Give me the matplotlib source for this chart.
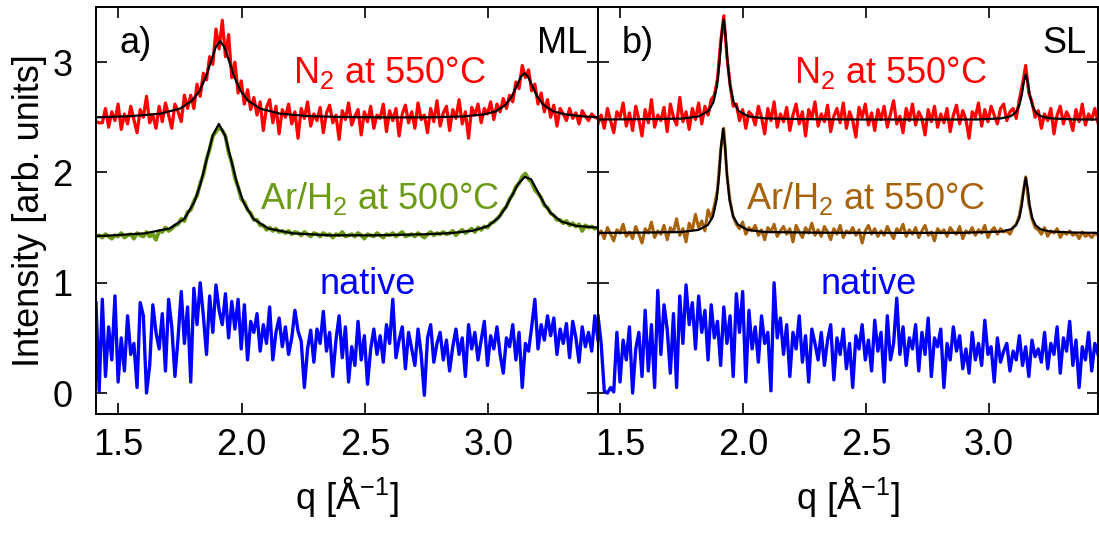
import matplotlib
matplotlib.use('Agg')
import matplotlib.pyplot as plt
import numpy as np

plt.rcParams['font.family'] = ['Liberation Sans', 'DejaVu Sans']
plt.rcParams['mathtext.fontset'] = 'custom'
plt.rcParams['mathtext.rm'] = 'Liberation Sans'
plt.rcParams['mathtext.it'] = 'Liberation Sans:italic'
plt.rcParams['font.size'] = 26

# q grid shared by all scans
q = np.linspace(1.41, 3.445, 160)

# ---- a) ML ----
n2_ml = [
    2.46, 2.45, 2.45, 2.58, 2.41, 2.55, 2.47, 2.62, 2.39, 2.53,
    2.44, 2.60, 2.48, 2.36, 2.57, 2.50, 2.69, 2.45, 2.52, 2.40,
    2.60, 2.46, 2.63, 2.52, 2.40, 2.62, 2.55, 2.46, 2.70, 2.58,
    2.70, 2.58, 2.80, 2.69, 2.90, 2.84, 3.05, 2.98, 3.30, 3.12,
    3.38, 3.05, 3.25, 2.86, 3.00, 2.72, 2.83, 2.62, 2.75, 2.57,
    2.68, 2.52, 2.64, 2.38, 2.59, 2.66, 2.45, 2.60, 2.35, 2.57,
    2.50, 2.62, 2.44, 2.55, 2.31, 2.58, 2.49, 2.64, 2.42, 2.53,
    2.47, 2.59, 2.36, 2.54, 2.61, 2.45, 2.52, 2.30, 2.56, 2.48,
    2.63, 2.43, 2.51, 2.57, 2.34, 2.55, 2.46, 2.60, 2.40, 2.52,
    2.49, 2.62, 2.37, 2.56, 2.47, 2.58, 2.33, 2.53, 2.61, 2.45,
    2.55, 2.40, 2.63, 2.48, 2.52, 2.36, 2.58, 2.46, 2.65, 2.42,
    2.54, 2.60, 2.38, 2.57, 2.49, 2.66, 2.44, 2.55, 2.31, 2.59,
    2.52, 2.62, 2.45, 2.58, 2.53, 2.64, 2.48, 2.62, 2.55, 2.67,
    2.58, 2.70, 2.64, 2.82, 2.76, 2.97, 2.86, 2.93, 2.74, 2.80,
    2.62, 2.72, 2.55, 2.66, 2.50, 2.61, 2.42, 2.58, 2.53, 2.47,
    2.58, 2.49, 2.54, 2.44, 2.56, 2.51, 2.47, 2.53, 2.50, 2.49,
]
arh2_ml = [
    1.42, 1.43, 1.41, 1.44, 1.42, 1.40, 1.43, 1.42, 1.45, 1.41,
    1.43, 1.44, 1.40, 1.45, 1.43, 1.42, 1.46, 1.42, 1.44, 1.39,
    1.47, 1.46, 1.50, 1.47, 1.49, 1.52, 1.53, 1.58, 1.56, 1.64,
    1.66, 1.74, 1.79, 1.90, 1.98, 2.12, 2.21, 2.33, 2.37, 2.41,
    2.38, 2.33, 2.18, 2.09, 1.95, 1.87, 1.76, 1.73, 1.66, 1.63,
    1.57, 1.57, 1.52, 1.52, 1.48, 1.50, 1.47, 1.49, 1.46, 1.47,
    1.45, 1.47, 1.44, 1.46, 1.45, 1.43, 1.46, 1.44, 1.42, 1.45,
    1.44, 1.42, 1.45, 1.43, 1.44, 1.41, 1.44, 1.43, 1.46, 1.42,
    1.43, 1.44, 1.42, 1.45, 1.43, 1.40, 1.44, 1.43, 1.42, 1.45,
    1.43, 1.41, 1.44, 1.43, 1.45, 1.42, 1.44, 1.46, 1.42, 1.43,
    1.44, 1.42, 1.45, 1.43, 1.41, 1.44, 1.46, 1.43, 1.45, 1.44,
    1.46, 1.44, 1.45, 1.47, 1.43, 1.46, 1.48, 1.45, 1.47, 1.49,
    1.46, 1.50, 1.48, 1.51, 1.50, 1.54, 1.55, 1.58, 1.61, 1.66,
    1.69, 1.76, 1.80, 1.87, 1.90, 1.96, 1.99, 1.94, 1.91, 1.84,
    1.81, 1.77, 1.70, 1.68, 1.63, 1.61, 1.57, 1.57, 1.54, 1.56,
    1.52, 1.54, 1.51, 1.53, 1.47, 1.52, 1.50, 1.51, 1.49, 1.50,
]
native_ml = [
    0.82, 0.02, 0.85, 0.15, 0.60, 0.30, 0.88, 0.10, 0.50, 0.20,
    0.70, 0.35, 0.45, 0.05, 0.82, 0.70, 0.00, 0.25, 0.80, 0.55,
    0.40, 0.72, 0.20, 0.85, 0.60, 0.15, 0.50, 0.92, 0.45, 0.78,
    0.10, 0.95, 0.62, 1.00, 0.70, 0.35, 0.88, 0.55, 0.98, 0.75,
    0.62, 0.90, 0.50, 0.83, 0.58, 0.85, 0.40, 0.80, 0.30, 0.65,
    0.55, 0.72, 0.38, 0.62, 0.45, 0.78, 0.30, 0.55, 0.68, 0.42,
    0.60, 0.35, 0.50, 0.75, 0.56, 0.47, 0.05, 0.40, 0.57, 0.28,
    0.58, 0.45, 0.74, 0.38, 0.55, 0.15, 0.48, 0.70, 0.32, 0.60,
    0.10, 0.42, 0.25, 0.65, 0.30, 0.52, 0.08, 0.40, 0.58, 0.35,
    0.52, 0.28, 0.62, 0.45, 0.85, 0.32, 0.48, 0.60, 0.22, 0.55,
    0.40, 0.25, 0.58, 0.35, -0.02, 0.50, 0.62, 0.28, 0.45, 0.55,
    0.30, 0.48, 0.20, 0.42, 0.58, 0.35, 0.50, 0.15, 0.62, 0.40,
    0.55, 0.30, 0.48, 0.65, 0.25, 0.52, 0.40, 0.60, 0.35, 0.18,
    0.50, 0.42, 0.62, 0.30, 0.55, 0.05, 0.45, 0.38, 0.60, 0.85,
    0.40, 0.62, 0.48, 0.70, 0.52, 0.68, 0.35, 0.58, 0.45, 0.63,
    0.32, 0.65, 0.50, 0.28, 0.60, 0.42, 0.55, 0.38, 0.70, 0.48,
]

# ---- b) SL ----
n2_sl = [
    2.44, 2.52, 2.40, 2.58, 2.47, 2.36, 2.55, 2.50, 2.63, 2.42,
    2.54, 2.38, 2.60, 2.48, 2.33, 2.57, 2.45, 2.66, 2.41, 2.52,
    2.47, 2.59, 2.37, 2.62, 2.50, 2.43, 2.68, 2.46, 2.55, 2.39,
    2.58, 2.48, 2.63, 2.44, 2.60, 2.52, 2.66, 2.70, 2.85, 3.18,
    3.42, 3.05, 2.80, 2.60, 2.62, 2.47, 2.57, 2.40, 2.55, 2.52,
    2.43, 2.60, 2.50, 2.35, 2.58, 2.47, 2.64, 2.41, 2.53, 2.46,
    2.59, 2.38, 2.52, 2.62, 2.44, 2.55, 2.33, 2.57, 2.49, 2.64,
    2.42, 2.53, 2.46, 2.61, 2.37, 2.51, 2.58, 2.45, 2.63, 2.40,
    2.55, 2.47, 2.32, 2.59, 2.50, 2.62, 2.43, 2.54, 2.38, 2.57,
    2.48, 2.60, 2.41, 2.53, 2.65, 2.44, 2.51, 2.36, 2.58, 2.47,
    2.62, 2.43, 2.55, 2.49, 2.34, 2.57, 2.46, 2.60, 2.41, 2.53,
    2.45, 2.58, 2.37, 2.52, 2.61, 2.44, 2.56, 2.48, 2.31, 2.55,
    2.50, 2.63, 2.42, 2.57, 2.46, 2.60, 2.52, 2.44, 2.58, 2.62,
    2.47, 2.55, 2.58, 2.49, 2.66, 2.80, 2.97, 2.72, 2.64, 2.50,
    2.56, 2.40, 2.53, 2.47, 2.58, 2.35, 2.52, 2.60, 2.44, 2.55,
    2.49, 2.38, 2.57, 2.46, 2.62, 2.43, 2.53, 2.48, 2.58, 2.45,
]
arh2_sl = [
    1.43, 1.47, 1.40, 1.50, 1.44, 1.38, 1.48, 1.45, 1.53, 1.42,
    1.46, 1.40, 1.51, 1.44, 1.36, 1.49, 1.45, 1.55, 1.41, 1.47,
    1.44, 1.52, 1.39, 1.50, 1.46, 1.58, 1.43, 1.49, 1.37, 1.54,
    1.48, 1.62, 1.50, 1.56, 1.47, 1.66, 1.58, 1.70, 1.84, 2.20,
    2.40, 1.98, 1.74, 1.60, 1.53, 1.49, 1.55, 1.44, 1.50, 1.47,
    1.52, 1.43, 1.48, 1.39, 1.50, 1.46, 1.53, 1.42, 1.47, 1.51,
    1.44, 1.49, 1.37, 1.52, 1.46, 1.41, 1.50, 1.45, 1.54, 1.43,
    1.48, 1.42, 1.51, 1.46, 1.39, 1.49, 1.44, 1.52, 1.41, 1.47,
    1.45, 1.50, 1.43, 1.48, 1.36, 1.47, 1.52, 1.44, 1.49, 1.42,
    1.47, 1.43, 1.51, 1.45, 1.40, 1.49, 1.46, 1.53, 1.42, 1.48,
    1.44, 1.50, 1.41, 1.47, 1.52, 1.43, 1.46, 1.38, 1.49, 1.45,
    1.48, 1.42, 1.50, 1.46, 1.44, 1.51, 1.40, 1.47, 1.45, 1.50,
    1.43, 1.48, 1.45, 1.52, 1.41, 1.47, 1.50, 1.44, 1.49, 1.46,
    1.47, 1.44, 1.50, 1.53, 1.61, 1.78, 1.96, 1.72, 1.58, 1.50,
    1.48, 1.44, 1.50, 1.42, 1.47, 1.45, 1.49, 1.41, 1.46, 1.44,
    1.47, 1.43, 1.45, 1.40, 1.46, 1.42, 1.44, 1.41, 1.45, 1.43,
]
native_sl = [
    0.70, 0.45, 0.02, 0.00, 0.05, 0.01, 0.55, 0.10, 0.48, 0.30,
    0.60, 0.00, 0.40, 0.55, 0.15, 0.75, 0.20, 0.62, 0.05, 0.93,
    0.35, 0.80, 0.58, 0.18, 0.72, 0.05, 0.88, 0.45, 0.98, 0.62,
    0.82, 0.40, 0.88, 0.55, 0.75, 0.30, 0.80, 0.50, 0.65, 0.25,
    0.78, 0.45, 0.70, 0.15, 0.90, 0.55, 0.92, 0.10, 0.75, 0.40,
    0.60, 0.28, 0.70, 0.45, 0.55, 0.02, 1.00, 0.50, 0.68, 0.35,
    0.62, 0.15, 0.55, 0.40, 0.70, 0.28, 0.52, 0.10, 0.58, 0.45,
    0.30, 0.55, 0.25, 0.48, 0.62, 0.12, 0.50, 0.35, 0.58, 0.22,
    0.45, 0.05, 0.52, 0.40, 0.62, 0.30, 0.48, 0.20, 0.66, 0.38,
    0.55, 0.10, 0.70, 0.30, 0.45, 0.86, 0.35, 0.60, 0.25, 0.50,
    0.40, 0.62, 0.20, 0.55, 0.35, 0.68, 0.15, 0.50, 0.42, 0.58,
    0.05, 0.45, 0.30, 0.60, 0.38, 0.52, 0.22, 0.40, 0.18, 0.55,
    0.30, 0.45, 0.25, 0.66, 0.35, 0.42, 0.10, 0.50, 0.28, 0.38,
    0.45, 0.20, 0.38, 0.30, 0.52, 0.25, 0.42, 0.15, 0.48, 0.33,
    0.40, 0.28, 0.55, 0.22, 0.45, 0.35, 0.60, 0.18, 0.50, 0.38,
    0.65, 0.25, 0.48, 0.05, 0.42, 0.30, 0.55, 0.20, 0.45, 0.35,
]

# peak fits (q, intensity)
fit_n2_ml_q = [1.41, 1.55, 1.67, 1.75, 1.80, 1.83, 1.855, 1.875, 1.895, 1.913,
               1.931, 1.951, 1.971, 1.996, 2.026, 2.076, 2.156, 2.276, 2.42, 2.60,
               2.78, 2.90, 2.98, 3.03, 3.07, 3.095, 3.115, 3.132, 3.147, 3.162,
               3.179, 3.199, 3.224, 3.264, 3.314, 3.39, 3.445]
fit_n2_ml_y = [2.500, 2.510, 2.533, 2.578, 2.652, 2.740, 2.864, 3.000, 3.135, 3.190,
               3.135, 3.000, 2.864, 2.740, 2.652, 2.578, 2.533, 2.510, 2.502, 2.499,
               2.500, 2.508, 2.526, 2.553, 2.612, 2.687, 2.781, 2.866, 2.900, 2.866,
               2.781, 2.687, 2.612, 2.553, 2.526, 2.507, 2.501]

fit_arh2_ml_q = [1.41, 1.458, 1.608, 1.708, 1.768, 1.808, 1.833, 1.858, 1.883, 1.908,
                 1.933, 1.958, 1.983, 2.008, 2.048, 2.108, 2.208, 2.358, 2.55, 2.75,
                 2.848, 2.938, 3.0, 3.042, 3.068, 3.095, 3.122, 3.148, 3.174, 3.201,
                 3.228, 3.254, 3.296, 3.358, 3.445]
fit_arh2_ml_y = [1.424, 1.427, 1.448, 1.492, 1.579, 1.729, 1.891, 2.113, 2.335, 2.440,
                 2.335, 2.113, 1.891, 1.729, 1.579, 1.492, 1.448, 1.430, 1.430, 1.440,
                 1.450, 1.472, 1.515, 1.590, 1.673, 1.785, 1.897, 1.960, 1.937, 1.825,
                 1.713, 1.631, 1.555, 1.515, 1.500]

fit_n2_sl_q = [1.41, 1.60, 1.75, 1.82, 1.86, 1.88, 1.895, 1.905, 1.913, 1.921,
               1.929, 1.937, 1.947, 1.962, 1.982, 2.022, 2.09, 2.25, 2.50, 2.80,
               2.95, 3.05, 3.09, 3.11, 3.125, 3.135, 3.143, 3.151, 3.159, 3.167,
               3.177, 3.192, 3.212, 3.252, 3.35, 3.445]
fit_n2_sl_y = [2.480, 2.483, 2.488, 2.508, 2.558, 2.638, 2.794, 3.010, 3.250, 3.387,
               3.250, 3.010, 2.794, 2.638, 2.558, 2.508, 2.490, 2.483, 2.480, 2.480,
               2.480, 2.490, 2.510, 2.543, 2.610, 2.706, 2.820, 2.887, 2.820, 2.706,
               2.610, 2.543, 2.510, 2.490, 2.481, 2.480]

fit_arh2_sl_q = [1.41, 1.60, 1.749, 1.819, 1.858, 1.878, 1.893, 1.903, 1.911, 1.919,
                 1.927, 1.935, 1.945, 1.96, 1.98, 2.019, 2.089, 2.30, 2.60, 2.90,
                 3.051, 3.091, 3.111, 3.125, 3.135, 3.143, 3.151, 3.159, 3.167, 3.177,
                 3.191, 3.211, 3.251, 3.35, 3.445]
fit_arh2_sl_y = [1.452, 1.455, 1.460, 1.479, 1.526, 1.602, 1.757, 1.978, 2.242, 2.396,
                 2.242, 1.978, 1.757, 1.602, 1.526, 1.479, 1.460, 1.454, 1.452, 1.453,
                 1.464, 1.485, 1.521, 1.589, 1.702, 1.852, 1.952, 1.852, 1.702, 1.589,
                 1.521, 1.485, 1.464, 1.455, 1.452]

red = '#ff0000'
green = '#6b9b14'
brown = '#a8620a'
blue = '#0000ff'

fig = plt.figure(figsize=(10.99, 5.36), dpi=100)
ax_a = fig.add_axes([96 / 1099, 122 / 536, 502 / 1099, 407 / 536])
ax_b = fig.add_axes([598 / 1099, 122 / 536, 500 / 1099, 407 / 536])

panels = [
    (ax_a, n2_ml, arh2_ml, native_ml, green, 2.8,
     (fit_n2_ml_q, fit_n2_ml_y), (fit_arh2_ml_q, fit_arh2_ml_y),
     'a)', 'ML', r'Ar/H$_2$ at 500°C', 2.56),
    (ax_b, n2_sl, arh2_sl, native_sl, brown, 2.2,
     (fit_n2_sl_q, fit_n2_sl_y), (fit_arh2_sl_q, fit_arh2_sl_y),
     'b)', 'SL', r'Ar/H$_2$ at 550°C', 2.50),
]

for ax, n2, arh2, native, c_ar, lw_ar, fit_n2, fit_ar, tag, kind, ar_label, ar_x in panels:
    ax.plot(q, native, color=blue, lw=2.4)
    ax.plot(q, arh2, color=c_ar, lw=lw_ar)
    ax.plot(q, n2, color=red, lw=2.3)
    ax.plot(fit_ar[0], fit_ar[1], color='black', lw=1.6)
    ax.plot(fit_n2[0], fit_n2[1], color='black', lw=1.6)

    ax.text(1.505, 3.08, tag, ha='left', va='baseline')
    ax.text(3.40, 3.08, kind, ha='right', va='baseline')
    ax.text(2.60, 2.815, r'N$_2$ at 550°C', color=red, ha='center', va='baseline')
    ax.text(ar_x, 1.67, ar_label, color=c_ar, ha='center', va='baseline')
    ax.text(2.51, 0.90, 'native', color=blue, ha='center', va='baseline')

    ax.set_xlim(1.41, 3.445)
    ax.set_ylim(-0.19, 3.5)
    ax.set_xticks([1.5, 2.0, 2.5, 3.0])
    ax.set_xticklabels(['1.5', '2.0', '2.5', '3.0'])
    ax.set_yticks([0, 1, 2, 3])
    ax.tick_params(direction='in', length=8, width=1.2, top=True, right=True)
    ax.tick_params(axis='x', pad=10)
    ax.tick_params(axis='y', pad=17)
    for s in ax.spines.values():
        s.set_linewidth(1.4)
    ax.set_xlabel(r'q [Å$^{-1}$]', labelpad=8)

ax_b.tick_params(labelleft=False)
ax_a.set_ylabel('Intensity [arb. units]', labelpad=4)

fig.savefig('out.png', dpi=100)
